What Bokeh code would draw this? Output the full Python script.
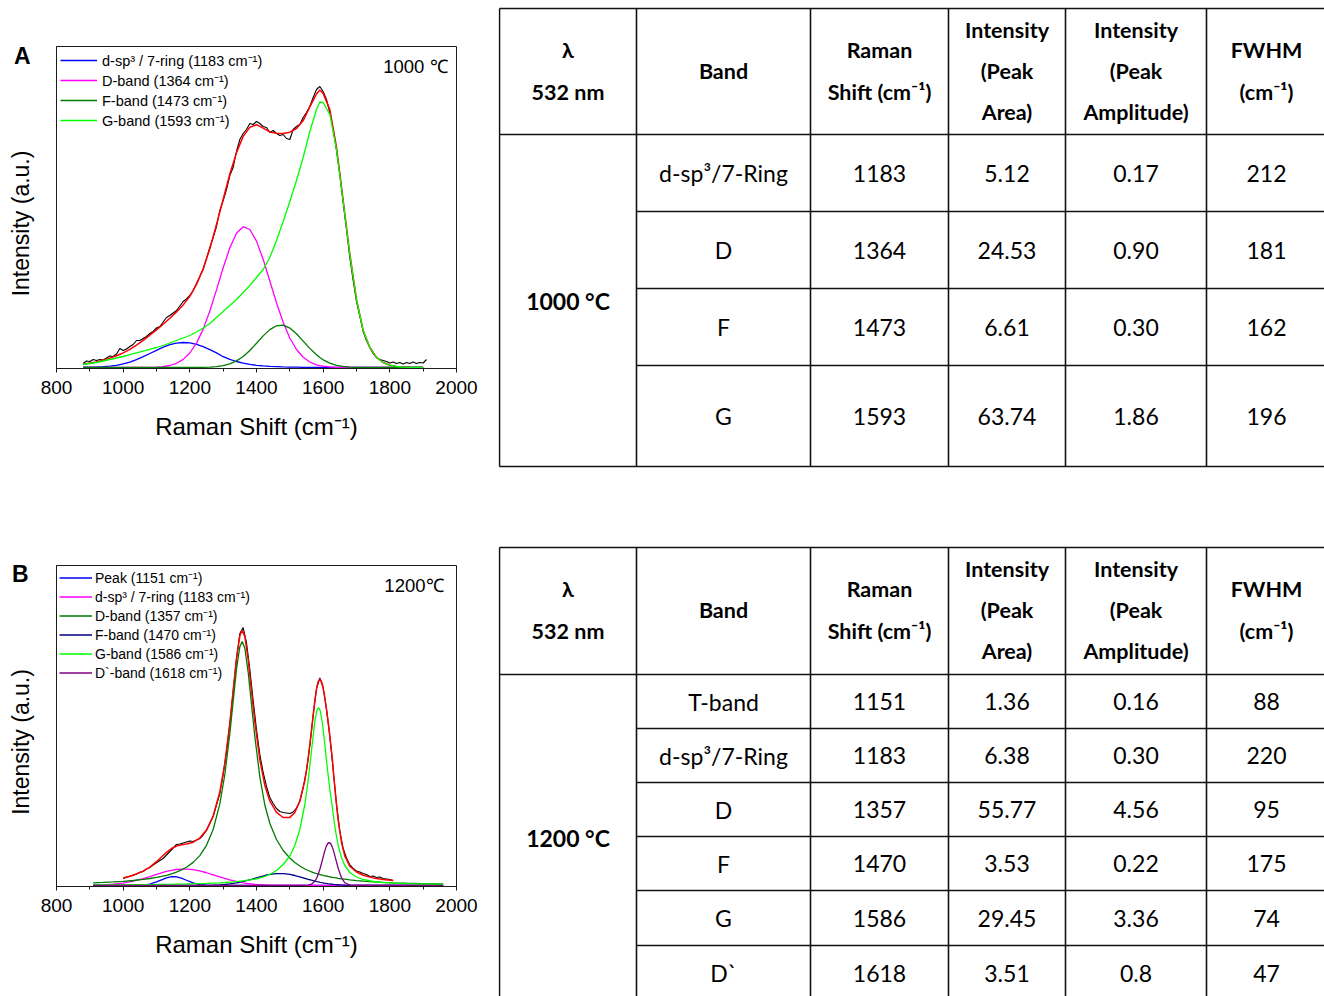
from bokeh.plotting import figure
from bokeh.models import Range1d, FixedTicker, Label, Legend, LegendItem
from bokeh.layouts import row, column
from bokeh.embed import file_html
from bokeh.resources import INLINE
from bokeh.core.properties import value

# ---------------------------------------------------------------- axis ticks
SHIFT_TICKS = [800, 1000, 1200, 1400, 1600, 1800, 2000]
SHIFT_MINOR = [900, 1100, 1300, 1500, 1700, 1900]

# ------------------------------------------------------- (A) 1000 °C spectrum
A_SHIFT = [880, 900, 920, 940, 960, 980, 1000, 1020, 1040, 1060, 1080, 1100,
           1120, 1140, 1160, 1180, 1200, 1220, 1240, 1260, 1280, 1300, 1320,
           1340, 1360, 1380, 1400, 1420, 1440, 1460, 1480, 1500, 1520, 1540,
           1560, 1580, 1590, 1600, 1620, 1640, 1660, 1680, 1700, 1720, 1740,
           1760, 1780, 1800, 1820, 1840, 1860, 1880, 1900]
A_DSP3 = [0.3, 0.4, 0.6, 0.9, 1.4, 2.2, 3.6, 5.4, 7.8, 10.8, 14.0, 17.2, 20.3,
          22.8, 24.4, 25.0, 24.6, 23.1, 20.8, 17.9, 14.6, 10.8, 8.2, 6.0, 4.3,
          3.1, 2.2, 1.6, 1.2, 0.9, 0.6, 0.4, 0.3, 0.2, 0.1, 0.1, 0.1, 0.05,
          0, 0, 0, 0, 0, 0, 0, 0, 0, 0, 0, 0, 0, 0, 0]
A_DBAND = [0, 0, 0, 0, 0, 0, 0, 0, 0, 0, 0.15, 0.4, 0.9, 2.0, 4.2, 8.1, 14.5,
           24.4, 38.4, 56.5, 77.6, 99.7, 119.7, 134.3, 140.8, 138.0, 126.4,
           108.2, 86.5, 64.7, 45.2, 29.5, 18.0, 10.3, 5.5, 2.7, 1.9, 1.3, 0.55,
           0.2, 0.1, 0, 0, 0, 0, 0, 0, 0, 0, 0, 0, 0, 0]
A_FBAND = [0, 0, 0, 0, 0, 0, 0, 0, 0, 0, 0, 0, 0, 0, 0, 0, 0, 0.05, 0.14,
           0.35, 0.83, 1.8, 3.6, 6.6, 11.0, 17.0, 24.2, 31.6, 37.9, 41.7, 42.3,
           39.4, 33.7, 26.4, 19.1, 12.7, 10.0, 7.7, 4.3, 2.2, 1.06, 0.46, 0.18,
           0.07, 0, 0, 0, 0, 0, 0, 0, 0, 0]
A_GBAND = [3, 4, 5, 6.5, 8, 9.5, 11, 12.8, 14.6, 16.4, 18.2, 20, 22, 24.5, 27,
           29.5, 32, 35.5, 39.5, 44, 50, 56, 62, 68, 75, 82, 90, 98, 110, 127,
           146, 166, 187, 210, 236, 258, 265.5, 265, 253, 218, 166, 113, 68,
           37, 20, 10, 5, 2.3, 1, 0.4, 0.2, 0.1, 0.1]
A_FIT = [3.3, 4.4, 5.6, 7.4, 9.4, 11.7, 14.6, 18.2, 22.4, 27.2, 32.4, 37.6,
         43.2, 49.3, 55.6, 62.6, 71.1, 83.1, 98.8, 118.8, 143.0, 168.3, 193.5,
         214.9, 231.1, 240.1, 242.8, 239.4, 235.6, 234.3, 234.1, 235.3, 239.0,
         246.9, 260.7, 273.5, 277.5, 274.1, 257.9, 220.4, 167.2, 113.5, 68.2,
         37.1, 20, 10, 5, 2.3, 1, 0.4, 0.2, 0.1, 0.1]
A_DATA_SHIFT = list(range(880, 1911, 10))
A_DATA = [4, 6.5, 6, 8, 7, 8, 7.5, 9.5, 11.5, 11,
          13.5, 19, 17, 18.5, 21, 23, 27, 27, 29, 31,
          34, 36, 39.5, 41, 45.5, 50, 52, 54.5, 57, 61.5,
          66, 68.5, 72, 77, 84, 91, 98, 109, 120, 130,
          141, 157, 167, 178, 192, 200, 216, 228, 234, 238,
          244, 243, 246, 244, 241, 240, 235, 237, 234, 232,
          233, 229, 228, 238, 241, 243, 250, 255, 261, 270,
          278, 281, 276, 268, 255, 238, 217, 193, 165, 138,
          110, 87, 66, 51, 36, 27, 20, 14, 10, 8,
          7, 6, 4.5, 5.5, 4, 5, 3.5, 5, 4, 5.5,
          4, 5, 4.5, 8]

# ------------------------------------------------------- (B) 1200 °C spectrum
B_SHIFT = [910, 940, 970, 1000, 1030, 1060, 1080, 1100, 1115, 1130, 1145,
           1160, 1175, 1190, 1210, 1230, 1250, 1270, 1290, 1305, 1320, 1330,
           1340, 1350, 1357, 1365, 1375, 1385, 1395, 1410, 1425, 1440, 1460,
           1480, 1500, 1515, 1530, 1545, 1555, 1565, 1575, 1581, 1586, 1591,
           1597, 1603, 1609, 1614, 1618, 1622, 1627, 1632, 1638, 1645, 1655,
           1665, 1680, 1700, 1720, 1750, 1780, 1810, 1850, 1900, 1960]
B_TBAND = [0, 0, 0, 0, 0.05, 0.47, 1.48, 3.55, 5.66, 7.69, 8.88, 8.74, 7.33,
           5.23, 2.59, 0.97, 0.27, 0.06, 0.01, 0,
           0, 0, 0, 0, 0, 0, 0, 0, 0, 0, 0, 0, 0, 0, 0, 0, 0, 0, 0, 0, 0, 0,
           0, 0, 0, 0, 0, 0, 0, 0, 0, 0, 0, 0, 0, 0, 0, 0, 0, 0, 0, 0, 0, 0, 0]
B_DSP3 = [0.23, 0.56, 1.23, 2.42, 4.31, 6.93, 8.98, 11.12, 12.66, 14.04, 15.19,
          16.0, 16.44, 16.45, 15.83, 14.54, 12.75, 10.69, 8.56, 7.03, 5.63,
          4.78, 4.02, 3.34, 2.91, 2.47, 2.0, 1.59, 1.26, 0.86, 0.57, 0.37, 0.2,
          0.1, 0.05, 0.03, 0.01,
          0, 0, 0, 0, 0, 0, 0, 0, 0, 0, 0, 0, 0, 0, 0, 0, 0, 0, 0, 0, 0, 0, 0,
          0, 0, 0, 0, 0, 0]
B_DBAND = [2.7, 3.1, 3.6, 4.2, 5.0, 6.1, 7.0, 8.1, 9.1, 10.2, 11.7, 13.4, 15.6,
           18.3, 23.1, 29.9, 40.2, 56.0, 81.6, 111.0, 151.9, 184.4, 216.3,
           238.8, 244.0, 237.3, 213.4, 181.1, 148.8, 108.7, 80.5, 62.0, 46.0,
           35.0, 27.5, 23.0, 19.5, 16.5, 15.0, 13.6, 12.4, 11.8, 11.3, 10.9,
           10.4, 9.9, 9.5, 9.1, 8.8, 8.5, 8.2, 7.9, 7.6, 7.2, 6.7, 6.3, 5.6,
           4.9, 4.3, 3.6, 3.1, 2.7, 2.3, 1.9, 1.5]
B_FBAND = [0, 0, 0, 0, 0, 0, 0, 0, 0, 0, 0, 0, 0.01, 0.01, 0.03, 0.07, 0.15,
           0.32, 0.64, 1.02, 1.56, 2.03, 2.6, 3.26, 3.78, 4.42, 5.3, 6.24,
           7.21, 8.66, 9.99, 11.06, 11.89, 11.89, 11.06, 9.99, 8.66, 7.21,
           6.24, 5.3, 4.42, 3.93, 3.55, 3.19, 2.78, 2.42, 2.09, 1.84, 1.65,
           1.48, 1.29, 1.11, 0.93, 0.75, 0.54, 0.38, 0.22, 0.1, 0.04, 0.01,
           0, 0, 0, 0, 0]
B_GBAND = [0.5, 0.6, 0.6, 0.7, 0.8, 0.9, 0.95, 1.0, 1.1, 1.2, 1.2, 1.3, 1.4,
           1.5, 1.7, 1.9, 2.1, 2.4, 2.7, 3.0, 3.4, 3.6, 3.9, 4.3, 4.5, 4.9,
           5.3, 5.8, 6.4, 7.5, 9.0, 11.2, 15.0, 21.0, 29.5, 40, 56, 81, 105,
           135, 164, 175, 178, 175, 164, 147, 128, 113, 102, 91, 80, 66, 53,
           40, 28, 20, 13, 8.5, 6, 4, 3, 2.4, 1.9, 1.5, 1.2]
B_D2BAND = [0, 0, 0, 0, 0, 0, 0, 0, 0, 0, 0, 0, 0, 0, 0, 0, 0, 0, 0, 0, 0, 0,
            0, 0, 0, 0, 0, 0, 0, 0, 0, 0, 0, 0, 0, 0, 0, 0.06, 0.3, 1.28,
            4.26, 7.77, 11.96, 17.29, 24.78, 32.45, 38.86, 42.15, 43.0, 42.15,
            38.86, 33.66, 26.08, 17.29, 7.77, 2.72, 0.35, 0.01, 0, 0,
            0, 0, 0, 0, 0]
B_FIT_SHIFT = B_SHIFT[3:62]
B_FIT = [7.3, 10.2, 14.4, 18.4, 23.8, 28.5, 33.1, 37.0, 39.4, 40.8, 41.5, 43.3,
         47.4, 55.5, 69.5, 93.5, 122.1, 162.5, 194.8, 226.8, 249.7, 255.2,
         249.1, 226.0, 194.7, 163.7, 125.7, 100.1, 84.6, 73.1, 68.0, 68.1,
         73.0, 84.2, 104.8, 126.5, 155.2, 185.1, 198.5, 204.8, 206.4, 202.0,
         191.8, 178.5, 166.1, 155.5, 143.1, 128.4, 108.7, 87.6, 65.2, 43.0,
         29.4, 19.2, 13.5, 10.3, 7.6, 6.1, 5.1]
B_DATA_SHIFT = list(range(1000, 1811, 10))
B_DATA = [7.0, 8.5, 9.0, 10.5, 11.4, 13.2, 14.0, 16.6, 18.0, 20.5,
          22.8, 25.0, 27.0, 30.5, 34.0, 37.5, 41.0, 41.5, 42.5, 43.5,
          44.5, 44.0, 45.5, 47.0, 50.5, 55.0, 62.0, 69.0, 80.5, 92.0,
          111, 134, 161, 194, 227, 252, 258, 243, 216, 185,
          156, 131, 113, 99, 88, 82, 77, 74, 73, 72.5,
          72, 73.5, 77.5, 84.5, 98, 115, 140, 170, 197, 207.5,
          198, 176.5, 149, 116, 81, 54.5, 37, 27.5, 20.5, 17,
          14.5, 13.5, 12, 11, 9, 9.5, 8, 8.5, 7, 6.5,
          6, 5]

# ------------------------------------------------------------ fit tables
TABLE_HEADER = [["λ", "532 nm"], ["Band"], ["Raman", "Shift (cm⁻¹)"],
                ["Intensity", "(Peak", "Area)"],
                ["Intensity", "(Peak", "Amplitude)"], ["FWHM", "(cm⁻¹)"]]

A_TEMP = "1000 °C"
A_BANDS = ["d-sp³/7-Ring", "D", "F", "G"]
A_POS = ["1183", "1364", "1473", "1593"]
A_AREA = ["5.12", "24.53", "6.61", "63.74"]
A_AMP = ["0.17", "0.90", "0.30", "1.86"]
A_FWHM = ["212", "181", "162", "196"]

B_TEMP = "1200 °C"
B_BANDS = ["T-band", "d-sp³/7-Ring", "D", "F", "G", "D`"]
B_POS = ["1151", "1183", "1357", "1470", "1586", "1618"]
B_AREA = ["1.36", "6.38", "55.77", "3.53", "29.45", "3.51"]
B_AMP = ["0.16", "0.30", "4.56", "0.22", "3.36", "0.8"]
B_FWHM = ["88", "220", "95", "175", "74", "47"]

# legend names of the fitted components
A_COMPONENTS = ["d-sp³ / 7-ring", "D-band", "F-band", "G-band"]
A_CENTERS = [1183, 1364, 1473, 1593]
B_COMPONENTS = ["Peak", "d-sp³ / 7-ring", "D-band", "F-band", "G-band", "D`-band"]
B_CENTERS = [1151, 1183, 1357, 1470, 1586, 1618]

AX = "#1a1a1a"
SANS = "Liberation Sans"
# no-break spaces after the y title push its visible text a little lower
Y_TITLE = "Intensity (a.u.)" + "\u00a0" * 5


def spectrum_figure(width, height, left, right, top, bottom, y_top,
                    letter, letter_y, letter_gap, title_gap):
    p = figure(width=width, height=height,
               x_range=Range1d(800, 2000), y_range=Range1d(-1, y_top),
               output_backend="svg", toolbar_location=None,
               min_border_left=left, min_border_right=right,
               min_border_top=top, min_border_bottom=bottom)
    p.background_fill_color = "white"
    p.border_fill_color = "white"
    p.outline_line_color = AX
    p.outline_line_width = 1
    p.grid.grid_line_color = None

    xa = p.xaxis[0]
    xa.ticker = FixedTicker(ticks=SHIFT_TICKS, minor_ticks=SHIFT_MINOR)
    xa.axis_line_color = AX
    xa.major_tick_line_color = AX
    xa.minor_tick_line_color = AX
    xa.major_tick_in = 0
    xa.major_tick_out = 4
    xa.minor_tick_in = 0
    xa.minor_tick_out = 3
    xa.major_label_text_font = SANS
    xa.major_label_text_font_size = "19px"
    xa.major_label_text_color = "black"
    xa.major_label_standoff = 8
    xa.axis_label = "Raman Shift (cm⁻¹)"
    xa.axis_label_text_font = SANS
    xa.axis_label_text_font_size = "24px"
    xa.axis_label_text_font_style = "normal"
    xa.axis_label_text_color = "black"
    xa.axis_label_standoff = 16

    # the intensity axis carries no numbers; its single tick label is the
    # panel letter, drawn beside the top of the frame
    ya = p.yaxis[0]
    ya.ticker = FixedTicker(ticks=[letter_y])
    ya.major_label_overrides = {letter_y: letter}
    ya.axis_line_color = AX
    ya.major_tick_line_color = None
    ya.minor_tick_line_color = None
    ya.major_tick_out = 0
    ya.minor_tick_out = 0
    ya.major_label_text_font = SANS
    ya.major_label_text_font_size = "23px"
    ya.major_label_text_font_style = "bold"
    ya.major_label_text_color = "black"
    ya.major_label_standoff = letter_gap
    ya.axis_label = Y_TITLE
    ya.axis_label_text_font = SANS
    ya.axis_label_text_font_size = "23px"
    ya.axis_label_text_font_style = "normal"
    ya.axis_label_text_color = "black"
    ya.axis_label_standoff = title_gap
    return p


def add_legend(p, items, row_h, gap, pad, glyph_w, standoff, size):
    legend = Legend(items=items, location="top_left", margin=0, padding=pad,
                    spacing=gap, glyph_width=glyph_w, glyph_height=row_h,
                    label_height=row_h, label_standoff=standoff,
                    label_text_font=SANS, label_text_font_size=size,
                    label_text_color="black",
                    background_fill_alpha=0, border_line_alpha=0)
    p.add_layout(legend)


# ----------------------------------------------------------------- panel A
pA = spectrum_figure(498, 480, 54, 42, 46, 112, 321, "A", 312, 26, -23)
pA.line(A_DATA_SHIFT, A_DATA, line_color="black", line_width=1.1)
pA.line(A_SHIFT, A_FIT, line_color="#ff0000", line_width=1.5)
a_colors = ["#0000ff", "#ff00ff", "#007a00", "#00ff00"]
a_series = [A_DSP3, A_DBAND, A_FBAND, A_GBAND]
a_items = []
for name, c0, col, ys in zip(A_COMPONENTS, A_CENTERS, a_colors, a_series):
    r = pA.line(A_SHIFT, ys, line_color=col, line_width=1.3)
    a_items.append(LegendItem(label=f"{name} ({c0} cm⁻¹)", renderers=[r]))
add_legend(pA, a_items, 20, 0, 4, 37, 5, "14.5px")
pA.add_layout(Label(x=1973, y=301, text="1000 ℃", text_align="right",
                    text_baseline="middle", text_font=SANS,
                    text_font_size="18.5px", text_color="black"))

# ----------------------------------------------------------------- panel B
pB = spectrum_figure(498, 516, 56, 42, 85, 110, 320, "B", 312, 28, -25)
pB.line(B_DATA_SHIFT, B_DATA, line_color="black", line_width=1.1)
pB.line(B_FIT_SHIFT, B_FIT, line_color="#ff0000", line_width=1.5)
b_colors = ["#0000ff", "#ff00ff", "#007a00", "#000080", "#00ff00", "#800080"]
b_series = [B_TBAND, B_DSP3, B_DBAND, B_FBAND, B_GBAND, B_D2BAND]
b_items = []
for name, c0, col, ys in zip(B_COMPONENTS, B_CENTERS, b_colors, b_series):
    r = pB.line(B_SHIFT, ys, line_color=col, line_width=1.3)
    b_items.append(LegendItem(label=f"{name} ({c0} cm⁻¹)", renderers=[r]))
add_legend(pB, b_items, 19, 0, 3, 33, 3, "14px")
pB.add_layout(Label(x=1961, y=300, text="1200℃", text_align="right",
                    text_baseline="middle", text_font=SANS,
                    text_font_size="18.5px", text_color="black"))

# ------------------------------------------------------------ tables canvas
T_W, T_H = 826, 996
tbl = figure(width=T_W, height=T_H, x_range=Range1d(0, T_W),
             y_range=Range1d(T_H, 0), x_axis_type=None, y_axis_type=None,
             output_backend="svg", toolbar_location=None, min_border=0)
tbl.grid.grid_line_color = None
tbl.outline_line_color = None
tbl.background_fill_color = "white"
tbl.border_fill_color = "white"

COL_EDGES = [1, 138, 312, 450, 567, 708, 830]
COL_MID = [(COL_EDGES[i] + COL_EDGES[i + 1]) / 2 for i in range(6)]
COL_MID[5] = 768
LINE_OFFSETS = {1: [62], 2: [41.5, 83], 3: [21, 62, 103]}
HEAD_FONT = value("Lato")


def draw_table(top, head_bottom, row_edges, bottom, temp, columns):
    lw = 1.6
    # outer frame and header rule
    tbl.segment(x0=[COL_EDGES[0]] * 2, y0=[top, head_bottom],
                x1=[COL_EDGES[-1]] * 2, y1=[top, head_bottom],
                line_color="#111111", line_width=lw)
    if bottom < T_H:
        tbl.segment(x0=[COL_EDGES[0]], y0=[bottom], x1=[COL_EDGES[-1]],
                    y1=[bottom], line_color="#111111", line_width=lw)
    # row rules (right of the temperature column)
    inner = row_edges[1:-1]
    tbl.segment(x0=[COL_EDGES[1]] * len(inner), y0=inner,
                x1=[COL_EDGES[-1]] * len(inner), y1=inner,
                line_color="#111111", line_width=lw)
    # column rules
    tbl.segment(x0=COL_EDGES, y0=[top] * len(COL_EDGES), x1=COL_EDGES,
                y1=[bottom] * len(COL_EDGES), line_color="#111111",
                line_width=lw)

    hx, hy, ht = [], [], []
    for i, lines in enumerate(TABLE_HEADER):
        for off, txt in zip(LINE_OFFSETS[len(lines)], lines):
            hx.append(COL_MID[i])
            hy.append(top + off)
            ht.append(txt)
    tbl.text(x=hx, y=hy, text=ht, text_align="center", text_baseline="middle",
             text_font=HEAD_FONT, text_font_style="bold",
             text_font_size="21.5px", text_color="black")
    tbl.text(x=[COL_MID[0]], y=[(head_bottom + min(bottom, 1000)) / 2],
             text=[temp], text_align="center", text_baseline="middle",
             text_font=HEAD_FONT, text_font_style="bold",
             text_font_size="23px", text_color="black")

    bx, by, bt = [], [], []
    for j in range(len(columns[0])):
        yc = (row_edges[j] + row_edges[j + 1]) / 2
        for k, colvals in enumerate(columns):
            bx.append(COL_MID[k + 1])
            by.append(yc)
            bt.append(colvals[j])
    tbl.text(x=bx, y=by, text=bt, text_align="center", text_baseline="middle",
             text_font=value("Lato"), text_font_size="23px",
             text_color="black")


draw_table(8, 134, [134, 211, 288, 365, 466], 466, A_TEMP,
           [A_BANDS, A_POS, A_AREA, A_AMP, A_FWHM])
draw_table(547, 674, [674, 728, 782, 836, 890, 945, 1000], 1000, B_TEMP,
           [B_BANDS, B_POS, B_AREA, B_AMP, B_FWHM])

page = row(column(pA, pB), tbl)

with open("out.html", "w") as f:
    f.write(file_html(page, INLINE))
